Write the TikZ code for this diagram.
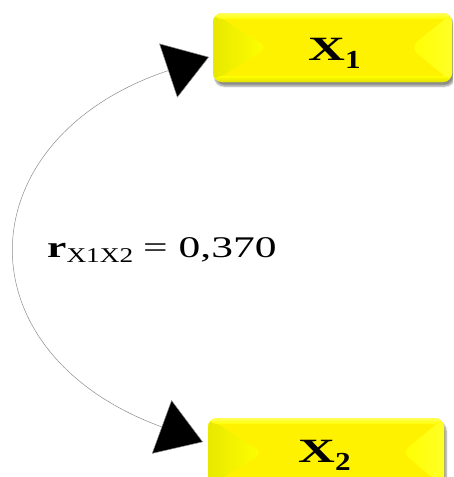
\documentclass[tikz,border=0pt]{standalone}
\usepackage{fontspec}
\setmainfont{Liberation Serif}
\usetikzlibrary{arrows.meta,shadows.blur,calc}
\tikzset{
  ybox/.style={draw=none, fill=yellow, rounded corners=9pt, minimum width=#1, minimum height=69pt, inner sep=0pt,
    blur shadow={shadow xshift=2pt, shadow yshift=-4pt, shadow blur steps=6, shadow opacity=45},
    path picture={
      \begin{scope}
        \clip (path picture bounding box.north west) -- ($(path picture bounding box.west)+(55pt,0)$) -- (path picture bounding box.south west) -- cycle;
        \shade[left color=yellow!91!black, right color=yellow] (path picture bounding box.north west) rectangle ($(path picture bounding box.south west)+(55pt,0)$);
      \end{scope}
      \begin{scope}
        \clip (path picture bounding box.north east) -- ($(path picture bounding box.east)+(-42pt,0)$) -- (path picture bounding box.south east) -- cycle;
        \shade[right color=yellow!85!white, left color=yellow] (path picture bounding box.north east) rectangle ($(path picture bounding box.south east)+(-42pt,0)$);
      \end{scope}
      \shade[top color=yellow!65!white, bottom color=yellow] (path picture bounding box.north west) rectangle ($(path picture bounding box.north east)+(0,-6pt)$);
      \shade[bottom color=yellow!88!black, top color=yellow] (path picture bounding box.south west) rectangle ($(path picture bounding box.south east)+(0,6pt)$);
    }},
  conn/.style={draw=black!45, line width=0.5pt, {Triangle[length=43pt,width=57pt,fill=black]}-{Triangle[length=44pt,width=57pt,fill=black]}},
  boxtext/.style={anchor=base west, inner sep=0pt},
}
\begin{document}
\begin{tikzpicture}[x=1pt,y=-1pt]
\useasboundingbox (0,0) rectangle (453,477);
\clip (0,0) rectangle (453,477);
\node[ybox=239pt] (b1) at (332.5,47.5) {};
\node[ybox=236pt] (b2) at (326,452.5) {};
\node[boxtext] (t1) at (308,60) {\scalebox{1.5}[1]{\fontsize{34}{34}\selectfont\bfseries X}\raisebox{-8pt}{\scalebox{1.2}[1]{\fontsize{26}{26}\selectfont\bfseries 1}}};
\node[boxtext] (t2) at (298,462) {\scalebox{1.5}[1]{\fontsize{34}{34}\selectfont\bfseries X}\raisebox{-8pt}{\scalebox{1.2}[1]{\fontsize{26}{26}\selectfont\bfseries 2}}};
\coordinate (tip1) at (209,57);
\coordinate (tip2) at (203,442);
\draw[conn] (tip1) .. controls (-34,138) and (-43,352) .. (tip2);
\node[boxtext] (lab) at (47,257) {\scalebox{1.45}[1]{\fontsize{30}{30}\selectfont\bfseries r}\raisebox{-5pt}{\scalebox{1.3}[1]{\fontsize{21}{21}\selectfont X1X2}}\hspace{10pt}\scalebox{1.45}[1]{\fontsize{30}{30}\selectfont = 0,370}};
\end{tikzpicture}
\end{document}
